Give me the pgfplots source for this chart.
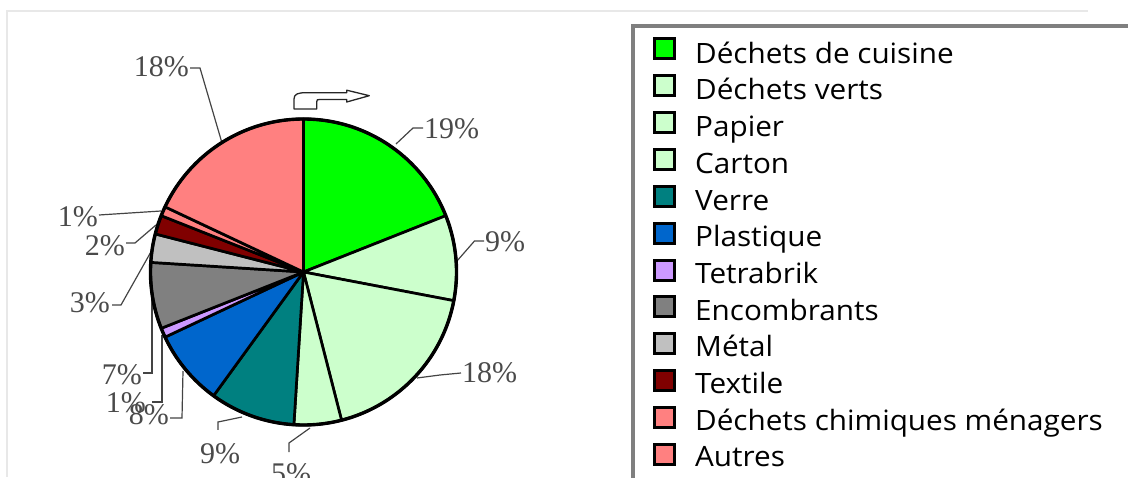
\documentclass[border=0pt]{standalone}
\usepackage{pgfplots}
\usepackage{pgfplotstable}
\pgfplotsset{compat=1.18}
\usepackage{fontspec}
\setmainfont{Liberation Serif}
\newfontfamily\legfont[FakeStretch=1.06]{Open Sans}
\definecolor{c1}{HTML}{00FF00}
\definecolor{c2}{HTML}{CCFFCC}
\definecolor{c3}{HTML}{CCFFCC}
\definecolor{c4}{HTML}{CCFFCC}
\definecolor{c5}{HTML}{008080}
\definecolor{c6}{HTML}{0066CC}
\definecolor{c7}{HTML}{CC99FF}
\definecolor{c8}{HTML}{808080}
\definecolor{c9}{HTML}{C0C0C0}
\definecolor{c10}{HTML}{800000}
\definecolor{c11}{HTML}{FF8080}
\definecolor{c12}{HTML}{FF8080}
\definecolor{labgray}{HTML}{4A4A4A}
\definecolor{leadgray}{HTML}{444444}
\definecolor{framegray}{HTML}{E8E8E8}
\definecolor{leggray}{HTML}{7F7F7F}

\pgfplotstableread[col sep=comma]{
name,value,col,lx,ly,anch,ax,ay,bx,by,cx,cy
Déchets de cuisine,19,c1,424,348,west,396,333,413,349,423,349
Déchets verts,9,c2,485,235,west,457,216,474.5,236,484,236
Papier,18,c3,462,104,west,417,99,440,102,461,104
Carton,5,c4,291,14,north,310,49,289,34,289,25
Verre,9,c5,220,34,north,242,60,218,55,218,47
Plastique,8,c6,169,62,east,183,106,182,59,170,59
Tetrabrik,1,c7,146,74,east,162,142,162,75,152,75
Encombrants,7,c8,142,102,east,152,181,152,104,143,104
Métal,3,c9,110,174,east,152,227,121,172,112,172
Textile,2,c10,125,231,east,156,252,135,234,126,234
Déchets chimiques ménagers,1,c11,98,260,east,161,266,130,264,99,262
Autres,18,c12,189,410,east,222,334,200,409,190,409
}\piedata

\tikzset{
  labtext/.style={inner sep=0pt,text=labgray,font=\fontsize{30}{30}\selectfont},
  legtext/.style={inner sep=0pt,text=black,font=\legfont\fontsize{28}{28}\selectfont},
}

\begin{document}
\begin{tikzpicture}
\useasboundingbox (0,0) rectangle (1128pt,477pt);
\clip (0,0) rectangle (1128pt,477pt);
\begin{axis}[
  at={(0,0)}, anchor=south west,
  width=1128pt, height=477pt, scale only axis,
  xmin=0, xmax=1128, ymin=0, ymax=477,
  hide axis, clip=false,
]
% light frame
\draw[framegray, line width=2pt] (axis cs:7,0) -- (axis cs:7,466) -- (axis cs:1088,466);
% legend box
\draw[leggray, line width=3.5pt, fill=white] (axis cs:633,-20) rectangle (axis cs:1160,451);

% leader lines and labels
\pgfplotsinvokeforeach{0,...,11}{
  \pgfplotstablegetelem{#1}{value}\of\piedata \let\vv\pgfplotsretval
  \pgfplotstablegetelem{#1}{lx}\of\piedata \let\lx\pgfplotsretval
  \pgfplotstablegetelem{#1}{ly}\of\piedata \let\ly\pgfplotsretval
  \pgfplotstablegetelem{#1}{anch}\of\piedata \let\an\pgfplotsretval
  \pgfplotstablegetelem{#1}{ax}\of\piedata \let\pax\pgfplotsretval
  \pgfplotstablegetelem{#1}{ay}\of\piedata \let\pay\pgfplotsretval
  \pgfplotstablegetelem{#1}{bx}\of\piedata \let\pbx\pgfplotsretval
  \pgfplotstablegetelem{#1}{by}\of\piedata \let\pby\pgfplotsretval
  \pgfplotstablegetelem{#1}{cx}\of\piedata \let\pcx\pgfplotsretval
  \pgfplotstablegetelem{#1}{cy}\of\piedata \let\pcy\pgfplotsretval
  \edef\temp{\noexpand\draw[leadgray, line width=1.2pt] (axis cs:\pax,\pay) -- (axis cs:\pbx,\pby) -- (axis cs:\pcx,\pcy);
    \noexpand\node[labtext, anchor=\an] at (axis cs:\lx,\ly) {\vv\noexpand\%};}
  \temp
}

% pie slices
\xdef\cum{0}
\pgfplotsinvokeforeach{0,...,11}{
  \pgfplotstablegetelem{#1}{value}\of\piedata \let\vv\pgfplotsretval
  \pgfplotstablegetelem{#1}{col}\of\piedata \let\cc\pgfplotsretval
  \pgfmathsetmacro\aS{90-3.6*\cum}
  \pgfmathsetmacro\newcum{\cum+\vv}\xdef\cum{\newcum}
  \pgfmathsetmacro\aE{90-3.6*\cum}
  \edef\temp{\noexpand\filldraw[fill=\cc, draw=black, line width=2.7pt, line join=round]
    (axis cs:303.5,205) -- ++(\aS:153pt) arc[start angle=\aS, end angle=\aE, radius=153pt] -- cycle;}
  \temp
}
\draw[black, line width=3.4pt] (axis cs:303.5,205) circle[radius=153pt];

% rotation arrow
\draw[black!85, line width=1.3pt, fill=white, line join=round]
  (axis cs:294,368) -- (axis cs:294,378) .. controls (axis cs:294,383) and (axis cs:298,384.3) .. (axis cs:306,384.3)
  -- (axis cs:346.7,384.3) -- (axis cs:346.7,386.8) -- (axis cs:369.3,381.3) -- (axis cs:346.7,375)
  -- (axis cs:346.7,377.5) -- (axis cs:320,377.5) .. controls (axis cs:317,377.5) .. (axis cs:316.7,375)
  -- (axis cs:316.7,368) -- cycle;

% legend entries
\pgfplotsinvokeforeach{0,...,11}{
  \pgfplotstablegetelem{#1}{col}\of\piedata \let\cc\pgfplotsretval
  \pgfplotstablegetelem{#1}{name}\of\piedata \let\nm\pgfplotsretval
  \pgfmathsetmacro\ryA{428.3-36.9*#1-10}
  \pgfmathsetmacro\ryB{428.3-36.9*#1+10}
  \pgfmathsetmacro\tby{413.7-36.7*#1}
  \edef\temp{\noexpand\filldraw[fill=\cc, draw=black, line width=3pt] (axis cs:654.5,\ryA) rectangle (axis cs:674.5,\ryB);
    \noexpand\node[legtext, anchor=base west] at (axis cs:695,\tby) {\nm};}
  \temp
}
\end{axis}
\end{tikzpicture}
\end{document}
